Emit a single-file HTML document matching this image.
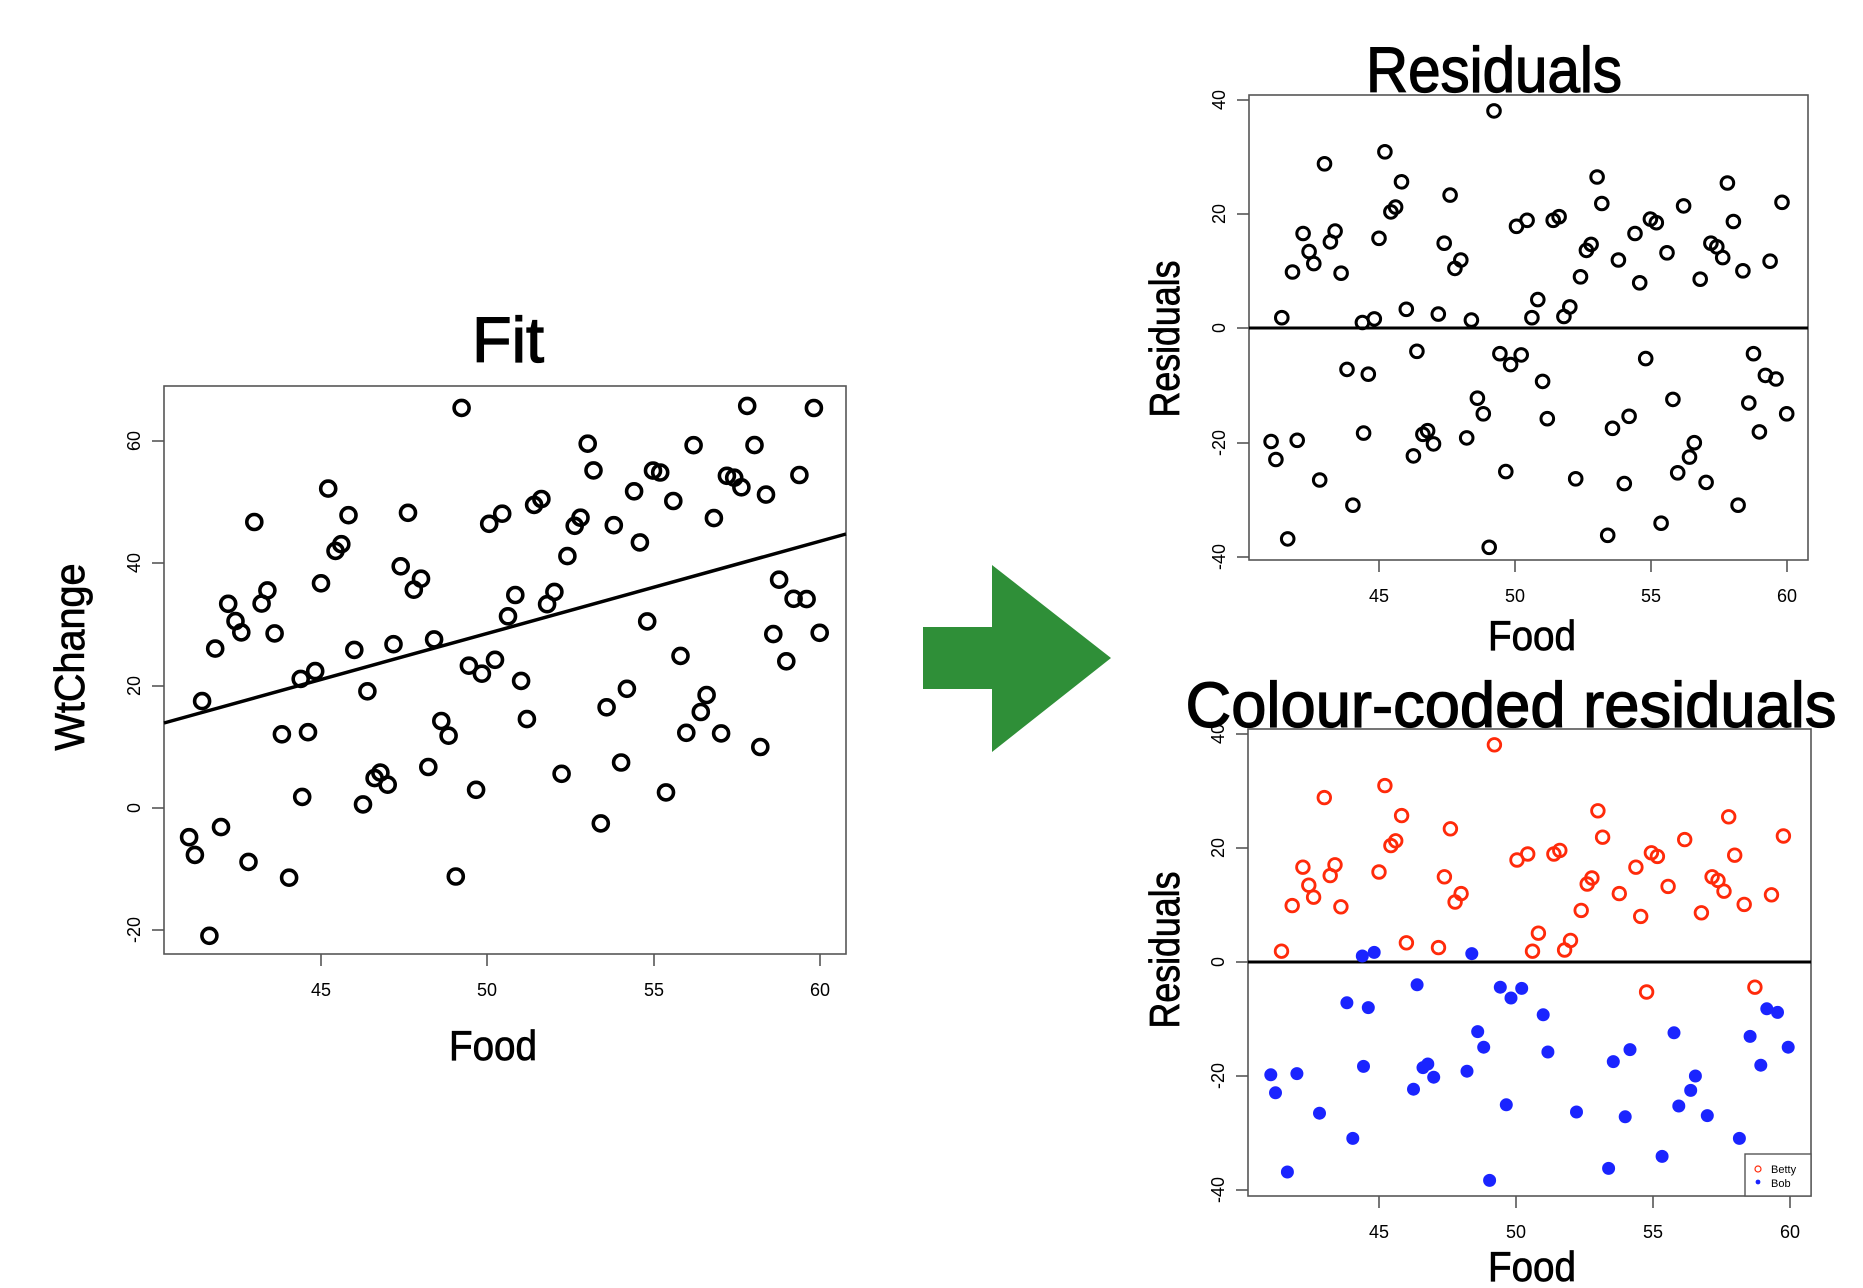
<!DOCTYPE html>
<html><head><meta charset="utf-8"><style>
html,body{margin:0;padding:0;background:#fff;}
svg{display:block;}
text{font-family:"Liberation Sans",sans-serif;fill:#000;}
.t{stroke:#000;stroke-width:1.3;}
.a{stroke:#000;stroke-width:0.8;}
</style></head><body>
<svg id="s" width="1863" height="1288" xmlns="http://www.w3.org/2000/svg">
<rect width="1863" height="1288" fill="#fff"/>
<text class="t" x="508" y="362" font-size="64" text-anchor="middle" textLength="72" lengthAdjust="spacingAndGlyphs">Fit</text>
<text class="t" x="1494" y="92" font-size="64" text-anchor="middle" textLength="256" lengthAdjust="spacingAndGlyphs">Residuals</text>
<text class="t" x="1511" y="727" font-size="64" text-anchor="middle" textLength="651" lengthAdjust="spacingAndGlyphs">Colour-coded residuals</text>
<text class="a" x="493" y="1060" font-size="42" text-anchor="middle" textLength="88" lengthAdjust="spacingAndGlyphs">Food</text>
<text class="a" transform="translate(84,657) rotate(-90)" font-size="42" text-anchor="middle" textLength="187" lengthAdjust="spacingAndGlyphs">WtChange</text>
<text class="a" x="1532" y="650" font-size="42" text-anchor="middle" textLength="88" lengthAdjust="spacingAndGlyphs">Food</text>
<text class="a" transform="translate(1179,339) rotate(-90)" font-size="42" text-anchor="middle" textLength="157" lengthAdjust="spacingAndGlyphs">Residuals</text>
<text class="a" x="1532" y="1281" font-size="42" text-anchor="middle" textLength="88" lengthAdjust="spacingAndGlyphs">Food</text>
<text class="a" transform="translate(1179,950) rotate(-90)" font-size="42" text-anchor="middle" textLength="157" lengthAdjust="spacingAndGlyphs">Residuals</text>
<polygon points="923,627 992,627 992,565 1111,658 992,752 992,689 923,689" fill="#2f8f38"/>
<g id="g"></g>
</svg>
<script>
var d=[[1069,369],[1073,384],[1078,266],[1083,450],[1087,228],[1091,368],[1096,196],[1101,211],[1105,221],[1110,401],[1114,138],[1119,203],[1123,194],[1128,229],[1133,309],[1138,422],[1146,270],[1147,362],[1151,313],[1156,267],[1160,200],[1165,128],[1170,178],[1174,174],[1179,153],[1183,259],[1189,381],[1192,294],[1197,363],[1201,360],[1206,371],[1210,263],[1215,204],[1220,164],[1224,225],[1229,218],[1234,366],[1238,268],[1243,333],[1248,346],[1253,457],[1257,94],[1262,296],[1267,394],[1271,305],[1276,190],[1280,297],[1285,185],[1289,266],[1294,251],[1298,319],[1302,350],[1307,185],[1312,182],[1316,265],[1321,257],[1326,400],[1330,232],[1335,210],[1339,205],[1344,149],[1348,171],[1353,447],[1357,358],[1362,218],[1367,404],[1371,348],[1376,196],[1380,237],[1385,300],[1389,184],[1394,187],[1398,437],[1403,212],[1408,334],[1412,395],[1417,173],[1422,382],[1426,370],[1431,234],[1436,403],[1440,204],[1445,207],[1450,216],[1454,154],[1459,186],[1463,422],[1467,227],[1472,337],[1476,296],[1481,361],[1486,314],[1490,219],[1495,317],[1500,170],[1504,346]];
var h='';
function box(l,t,r,b){h+='<rect x="'+l+'" y="'+t+'" width="'+(r-l)+'" height="'+(b-t)+'" fill="none" stroke="#555" stroke-width="1.6"/>';}
function xt(xs,y,lab){for(var i=0;i<xs.length;i++){h+='<line x1="'+xs[i]+'" y1="'+y+'" x2="'+xs[i]+'" y2="'+(y+12)+'" stroke="#555" stroke-width="1.6"/><text x="'+xs[i]+'" y="'+(y+42)+'" font-size="18" text-anchor="middle">'+lab[i]+'</text>';}}
function yt(ys,x,lab){for(var i=0;i<ys.length;i++){h+='<line x1="'+(x-12)+'" y1="'+ys[i]+'" x2="'+x+'" y2="'+ys[i]+'" stroke="#555" stroke-width="1.6"/><text transform="translate('+(x-24)+','+ys[i]+') rotate(-90)" font-size="18" text-anchor="middle">'+lab[i]+'</text>';}}
var xl=['45','50','55','60'];
box(164,386,846,954);
xt([321,487,654,820],954,xl);
yt([441,563,686,808,930],164,['60','40','20','0','-20']);
h+='<line x1="164" y1="723" x2="846" y2="534" stroke="#000" stroke-width="3.5"/>';
box(1249,95,1808,560);
xt([1379,1515,1651,1787],560,xl);
yt([100,214,328,443,557],1249,['40','20','0','-20','-40']);
h+='<line x1="1249" y1="328" x2="1808" y2="328" stroke="#000" stroke-width="3"/>';
box(1248,729,1811,1196);
xt([1379,1516,1653,1790],1196,xl);
yt([734,848,962,1076,1190],1248,['40','20','0','-20','-40']);
h+='<line x1="1248" y1="962" x2="1811" y2="962" stroke="#000" stroke-width="3"/>';
for(var i=0;i<d.length;i++){
 var dx=d[i][0],dy=d[i][1];
 var x=45+(dx-1160)/22.95, r=(275-dy)/4.75;
 var f=r+13.8+1.51*(x-40.28);
 var fx=321+(x-45)*33.27, fy=441-(f-60)*6.11;
 h+='<circle cx="'+fx.toFixed(1)+'" cy="'+fy.toFixed(1)+'" r="7.5" fill="none" stroke="#000" stroke-width="3.6"/>';
 var rx=1379+(x-45)*27.2, ry=328.5-r*5.71;
 h+='<circle cx="'+rx.toFixed(1)+'" cy="'+ry.toFixed(1)+'" r="6.3" fill="none" stroke="#000" stroke-width="3"/>';
 var cx=1379+(x-45)*27.3, cy=962-r*5.7;
 var red=r>0; if(dx==1146||dx==1156||dx==1238)red=false; if(dx==1385||dx==1476)red=true;
 if(red)h+='<circle cx="'+cx.toFixed(1)+'" cy="'+cy.toFixed(1)+'" r="6.3" fill="none" stroke="#ff2a0a" stroke-width="2.8"/>';
 else h+='<circle cx="'+cx.toFixed(1)+'" cy="'+cy.toFixed(1)+'" r="6.5" fill="#1a24ff"/>';
}
h+='<rect x="1745" y="1154" width="66" height="42" fill="#fff" stroke="#555" stroke-width="1.4"/>';
h+='<circle cx="1758" cy="1169" r="3" fill="none" stroke="#ff2a0a" stroke-width="1.2"/><circle cx="1758" cy="1182" r="2.4" fill="#1a24ff"/>';
h+='<text x="1771" y="1173" font-size="11">Betty</text><text x="1771" y="1187" font-size="11">Bob</text>';
document.getElementById('g').innerHTML=h;
</script>
</body></html>
